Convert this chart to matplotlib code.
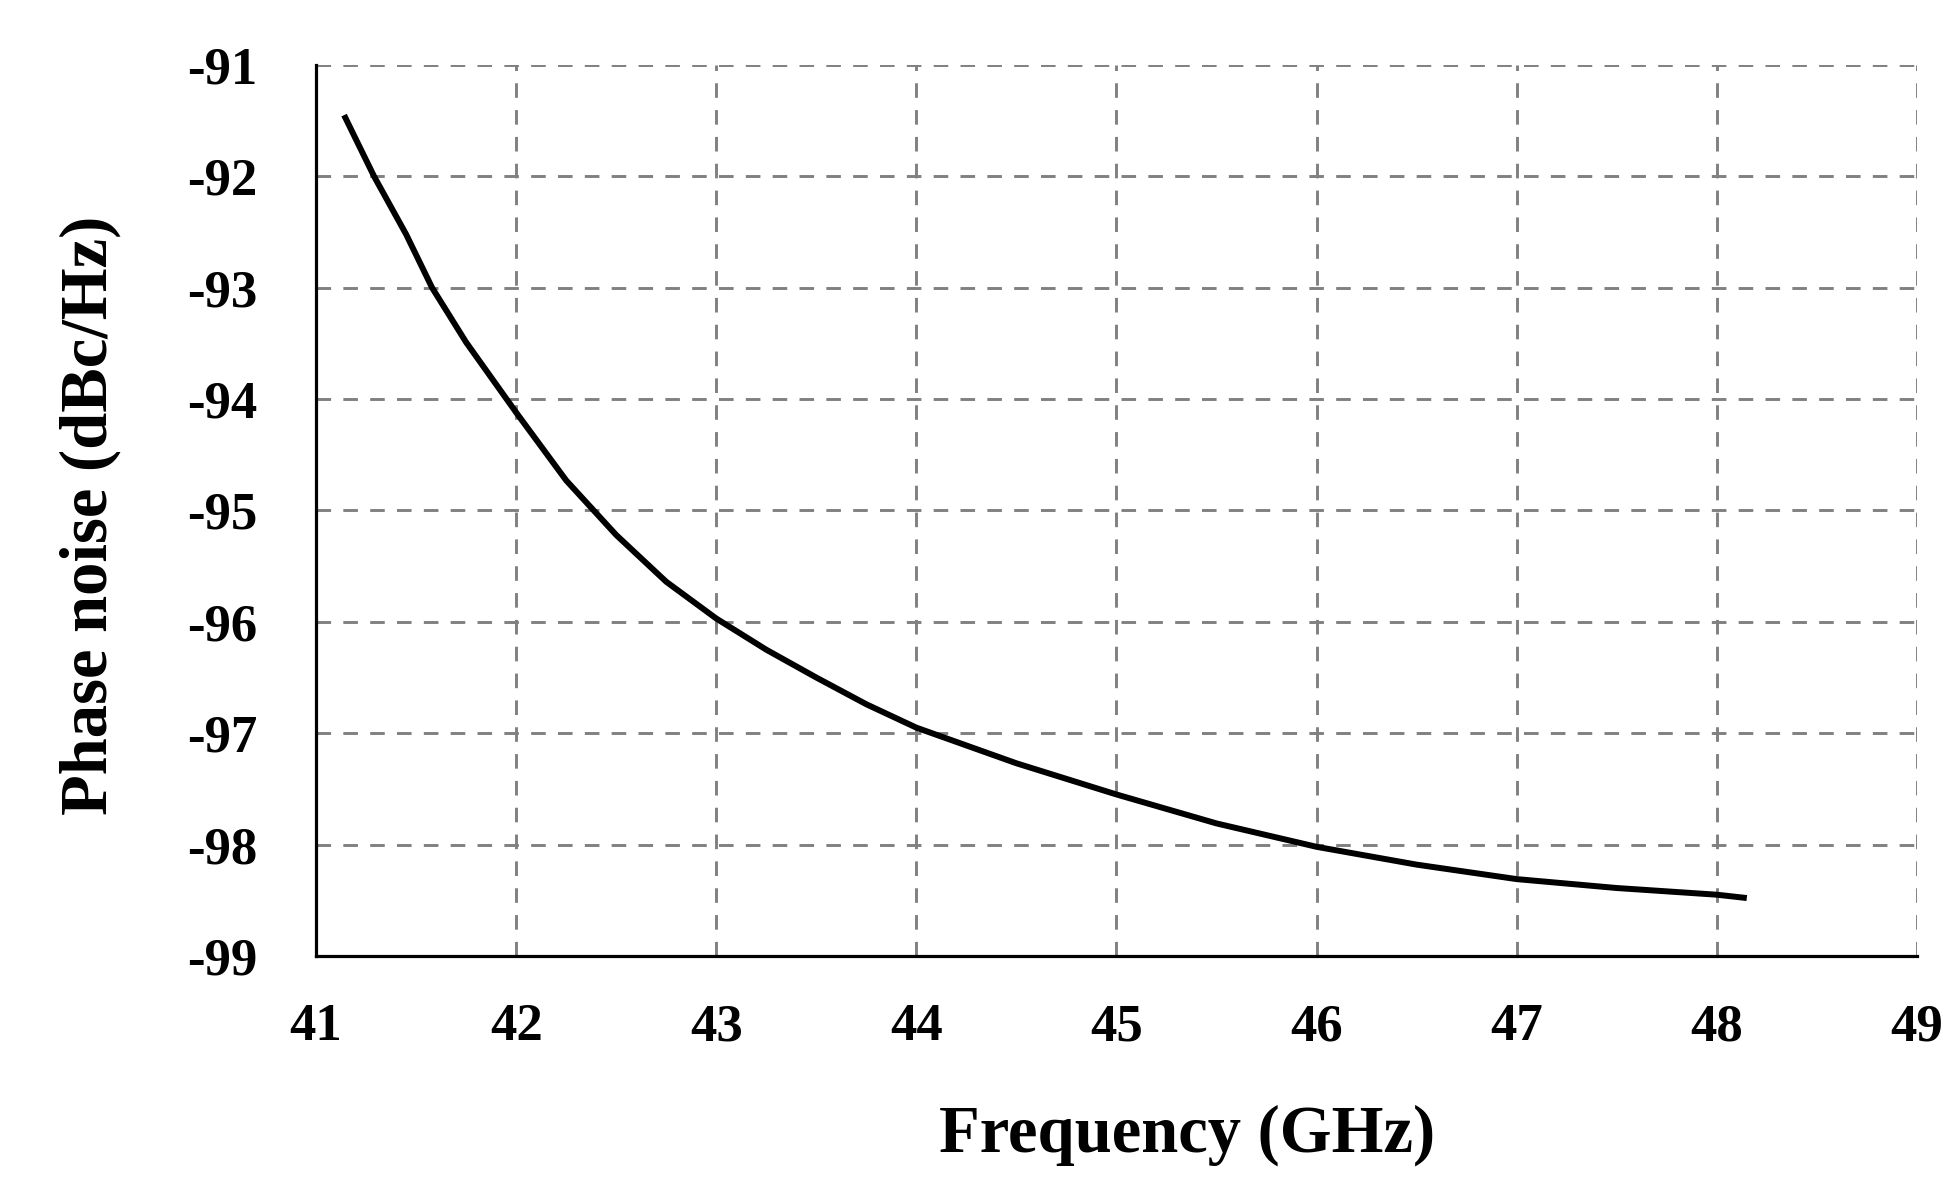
import numpy as np
import matplotlib
matplotlib.use('Agg')
import matplotlib.pyplot as plt

# values
freq = [41.14, 41.29, 41.45, 41.58, 41.75, 42.0, 42.25, 42.5, 42.75, 43.0, 43.25, 43.5,
        43.75, 44.0, 44.5, 45.0, 45.5, 46.0, 46.5, 47.0, 47.5, 48.0, 48.15]
phase_noise = [-91.45, -92.0, -92.52, -93.0, -93.49, -94.12, -94.73, -95.22, -95.64, -95.97,
               -96.25, -96.5, -96.74, -96.95, -97.27, -97.55, -97.81, -98.02, -98.18,
               -98.31, -98.39, -98.45, -98.48]

xticks = [41, 42, 43, 44, 45, 46, 47, 48, 49]
yticks = [-91, -92, -93, -94, -95, -96, -97, -98, -99]

plt.rcParams['font.family'] = ['Liberation Serif', 'DejaVu Serif']
plt.rcParams['font.weight'] = 'bold'

fig = plt.figure(figsize=(19.57, 11.93), dpi=100)
ax = fig.add_axes([0.1615, 0.1987, 0.818, 0.7468])

ax.plot(freq, phase_noise, color='black', lw=4.3, solid_capstyle='butt',
        solid_joinstyle='round')

ax.set_xlim(41, 49)
ax.set_ylim(-99, -91)
ax.set_xticks(xticks)
ax.set_yticks(yticks)
ax.set_xticklabels([str(t) for t in xticks])
ax.set_yticklabels([str(t) for t in yticks])
ax.tick_params(axis='both', length=0, labelsize=38)
ax.tick_params(axis='x', pad=34)
ax.tick_params(axis='y', pad=42)

ax.grid(True, color='#808080', linestyle=(0, (5, 4.2)), linewidth=2.1)
ax.set_axisbelow(True)

for side in ['top', 'right']:
    ax.spines[side].set_visible(False)
for side in ['left', 'bottom']:
    ax.spines[side].set_linewidth(2.3)
    ax.spines[side].set_color('black')

ax.set_xlabel('Frequency (GHz)', fontsize=48, fontweight='bold')
ax.set_ylabel('Phase noise (dBc/Hz)', fontsize=48, fontweight='bold')
ax.xaxis.label.set_va('center')
ax.yaxis.label.set_va('center')
ax.xaxis.set_label_coords(0.544, -0.201)
ax.yaxis.set_label_coords(-0.141, 0.494)

fig.savefig('out.png', dpi=100)
